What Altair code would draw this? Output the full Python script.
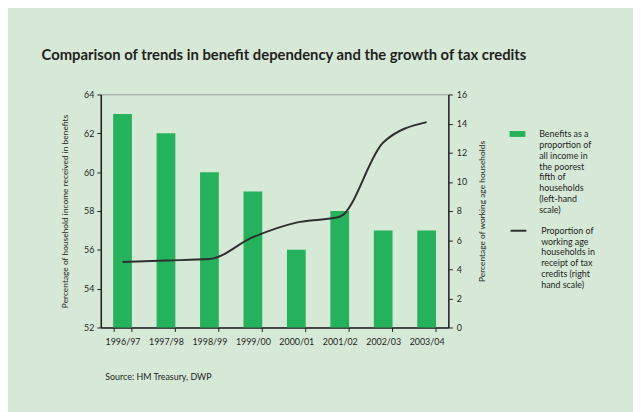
import altair as alt
import pandas as pd

years = ["1996/97", "1997/98", "1998/99", "1999/00", "2000/01", "2001/02", "2002/03", "2003/04"]
benefits = [63, 62, 60, 59, 56, 58, 57, 57]
tax_credits = [4.5, 4.6, 4.7, 6.2, 7.2, 7.6, 12.7, 14.1]

bar_label = "Benefits as a|proportion of|all income in|the poorest|fifth of|households|(left-hand|scale)"
line_label = "Proportion of|working age|households in|receipt of tax|credits (right|hand scale)"

df = pd.DataFrame({
    "year": years,
    "benefits": benefits,
    "tax": tax_credits,
    "bseries": [bar_label] * len(years),
    "lseries": [line_label] * len(years),
})

FONT = "Lato"
GREEN = "#24b25c"
BG = "#d6e9d7"
DARK = "#231f20"

x_enc = alt.X(
    "year:N",
    sort=years,
    scale=alt.Scale(paddingInner=0.57, paddingOuter=0.285),
    axis=alt.Axis(
        title="Source: HM Treasury, DWP",
        titleFont=FONT, titleFontSize=9, titleFontWeight="normal", titleColor=DARK,
        titleAnchor="start", titleAlign="left", titleX=4, titleY=50, titleBaseline="middle",
        labelAngle=0, labelFont=FONT, labelFontSize=9, labelColor=DARK, labelPadding=6,
        tickBand="extent", tickSize=4, tickColor=DARK, tickWidth=1,
        domainColor=DARK, domainWidth=1.5,
    ),
)

bars = alt.Chart(df).mark_bar(width=19, clip=True).encode(
    x=x_enc,
    y=alt.Y(
        "benefits:Q",
        scale=alt.Scale(domain=[52, 64], zero=False, nice=False),
        axis=alt.Axis(
            orient="left",
            title="Percentage of household income received in benefits",
            titleFont=FONT, titleFontSize=8.5, titleFontWeight="normal", titleColor=DARK,
            titlePadding=14,
            values=[52, 54, 56, 58, 60, 62, 64],
            labelFont=FONT, labelFontSize=9, labelColor=DARK, labelPadding=3,
            tickSize=4, tickColor=DARK, tickWidth=1,
            domainColor=DARK, domainWidth=1.5, grid=False,
        ),
    ),
    color=alt.Color(
        "bseries:N",
        scale=alt.Scale(domain=[bar_label], range=[GREEN]),
        legend=alt.Legend(
            title=None, orient="none", legendX=414, legendY=28,
            labelExpr="split(datum.label, '|')",
            labelFont=FONT, labelFontSize=9, labelColor=DARK, labelLimit=0,
            labelBaseline="top", labelOffset=14,
            symbolType="M-1,0.125H1V0.875H-1Z", symbolSize=256,
            symbolStrokeWidth=0, symbolOpacity=1,
        ),
    ),
)

line = alt.Chart(df).mark_line(strokeWidth=2, interpolate="monotone").encode(
    x=alt.X("year:N", sort=years),
    y=alt.Y(
        "tax:Q",
        scale=alt.Scale(domain=[0, 16], nice=False),
        axis=alt.Axis(
            orient="right",
            title="Percentage of working age households",
            titleFont=FONT, titleFontSize=8.5, titleFontWeight="normal", titleColor=DARK,
            titleAngle=270, titlePadding=20,
            values=[0, 2, 4, 6, 8, 10, 12, 14, 16],
            labelFont=FONT, labelFontSize=9, labelColor=DARK, labelPadding=4,
            tickSize=4, tickColor=DARK, tickWidth=1,
            domainColor=DARK, domainWidth=1.5, grid=False,
        ),
    ),
    stroke=alt.Stroke(
        "lseries:N",
        scale=alt.Scale(domain=[line_label], range=["#2e2e2e"]),
        legend=alt.Legend(
            title=None, orient="none", legendX=414, legendY=125,
            labelExpr="split(datum.label, '|')",
            labelFont=FONT, labelFontSize=9, labelColor=DARK, labelLimit=0,
            labelBaseline="top", labelOffset=14,
            symbolType="M-1,0.5H1", symbolSize=256, symbolStrokeWidth=2,
        ),
    ),
)

chart = alt.layer(bars, line).resolve_scale(y="independent").properties(
    width=352,
    height=236,
    autosize=alt.AutoSizeParams(type="none"),
    padding={"left": 94, "top": 85, "right": 187, "bottom": 83},
    background=BG,
    title=alt.TitleParams(
        "Comparison of trends in benefit dependency and the growth of tax credits",
        font=FONT, fontSize=15, fontWeight="bold", color=DARK,
        anchor="start", frame="group", dx=-60, offset=28,
    ),
).configure_view(stroke="#888888", strokeWidth=0.8)

chart.save("out.html", embed_options={"renderer": "svg", "actions": False})
